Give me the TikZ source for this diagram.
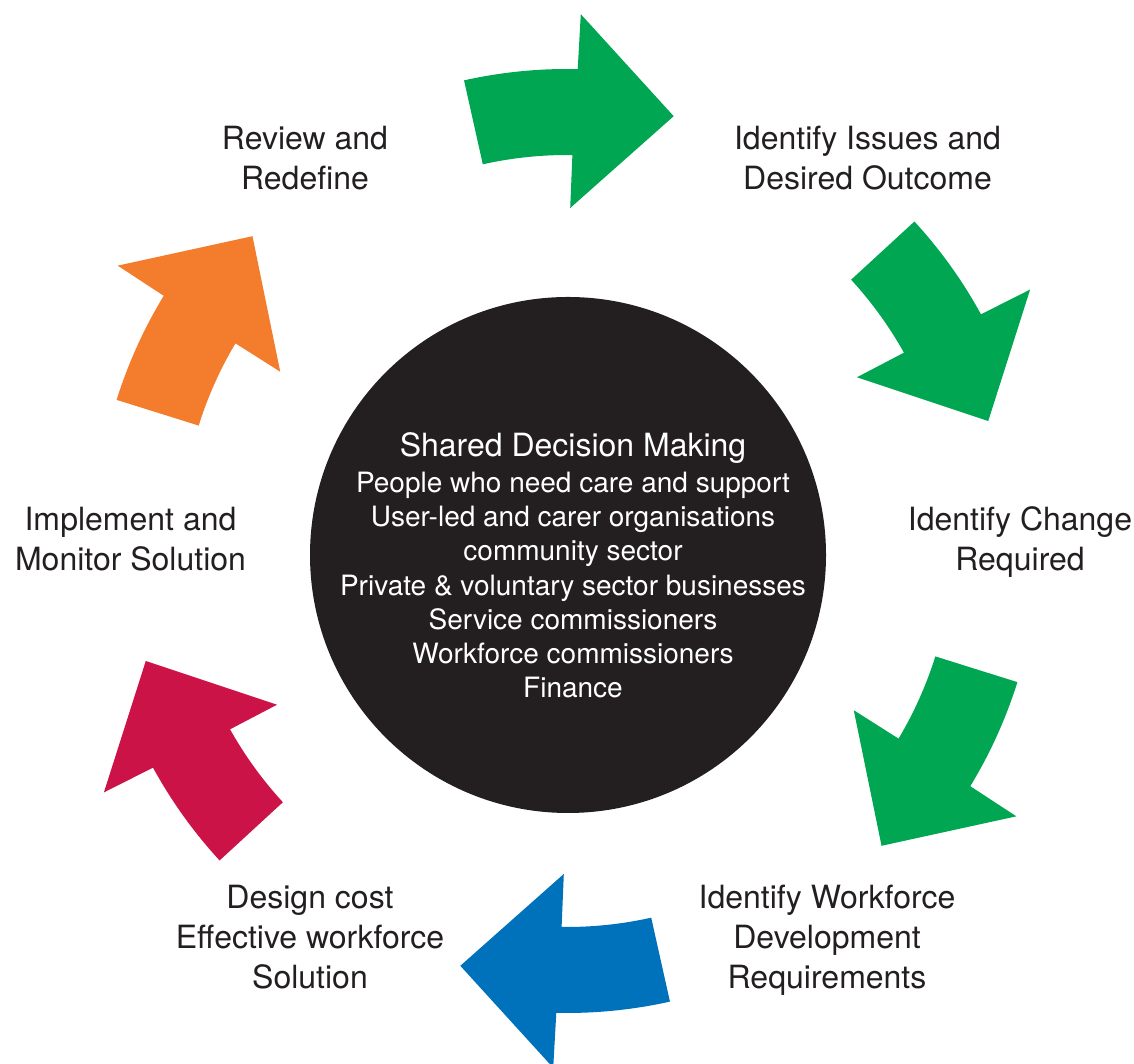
\documentclass[tikz,border=0pt]{standalone}
\usepackage{fontspec}
\setmainfont{TeX Gyre Heros}
\definecolor{cgreen}{RGB}{0,166,81}
\definecolor{cblue}{RGB}{0,114,188}
\definecolor{cred}{RGB}{204,19,72}
\definecolor{corange}{RGB}{244,125,45}
\definecolor{cblack}{RGB}{35,31,32}
\definecolor{labgray}{RGB}{35,31,32}
\begin{document}
\begin{tikzpicture}[x=1pt,y=1pt,
  lab/.style={anchor=base, inner sep=0pt, text=labgray, font=\fontsize{32}{40}\selectfont},
  ctitle/.style={anchor=base, inner sep=0pt, text=white, font=\fontsize{32}{38}\selectfont},
  ctext/.style={anchor=base, inner sep=0pt, text=white, font=\fontsize{28}{34}\selectfont}]
\useasboundingbox (0,0) rectangle (1134,1064);
\coordinate (C) at (567,523);
\foreach \t/\c in {89/cgreen, 29/cgreen, -31/cgreen, -91/cblue, -151/cred, 149/corange} {
  \fill[\c] ([shift={(\t+13.6:472)}]C) arc[start angle=\t+13.6, end angle=\t-0.3, radius=472]
    -- ([shift={(\t-0.5:527)}]C) -- ([shift={(\t-13.1:438)}]C)
    -- ([shift={(\t+0.45:333)}]C) -- ([shift={(\t+0.2:386)}]C)
    arc[start angle=\t+0.2, end angle=\t+13.6, radius=386] -- cycle;
}
\node[circle, fill=cblack, minimum size=516pt, inner sep=0pt] (hub) at (568,509) {};
\node[ctitle] (t0) at (573,607) {Shared Decision Making};
\node[ctext] (t1) at (573,571.5) {People who need care and support};
\node[ctext] (t2) at (573,537.3) {User-led and carer organisations};
\node[ctext] (t3) at (573,503.1) {community sector};
\node[ctext] (t4) at (573,468.9) {Private \& voluntary sector businesses};
\node[ctext] (t5) at (573,434.7) {Service commissioners};
\node[ctext] (t6) at (573,400.5) {Workforce commissioners};
\node[ctext] (t7) at (573,366.3) {Finance};
\node[lab] (rv1) at (305,914) {Review and};
\node[lab] (rv2) at (305,874) {Redefine};
\node[lab] (ii1) at (867.5,914) {Identify Issues and};
\node[lab] (ii2) at (867.5,874) {Desired Outcome};
\node[lab] (ic1) at (1020,533) {Identify Change};
\node[lab] (ic2) at (1020,493) {Required};
\node[lab] (im1) at (130.5,533) {Implement and};
\node[lab] (im2) at (130.5,493) {Monitor Solution};
\node[lab] (iw1) at (827,155) {Identify Workforce};
\node[lab] (iw2) at (827,115) {Development};
\node[lab] (iw3) at (827,75) {Requirements};
\node[lab] (dc1) at (310,155) {Design cost};
\node[lab] (dc2) at (310,115) {Effective workforce};
\node[lab] (dc3) at (310,75) {Solution};
\end{tikzpicture}
\end{document}
